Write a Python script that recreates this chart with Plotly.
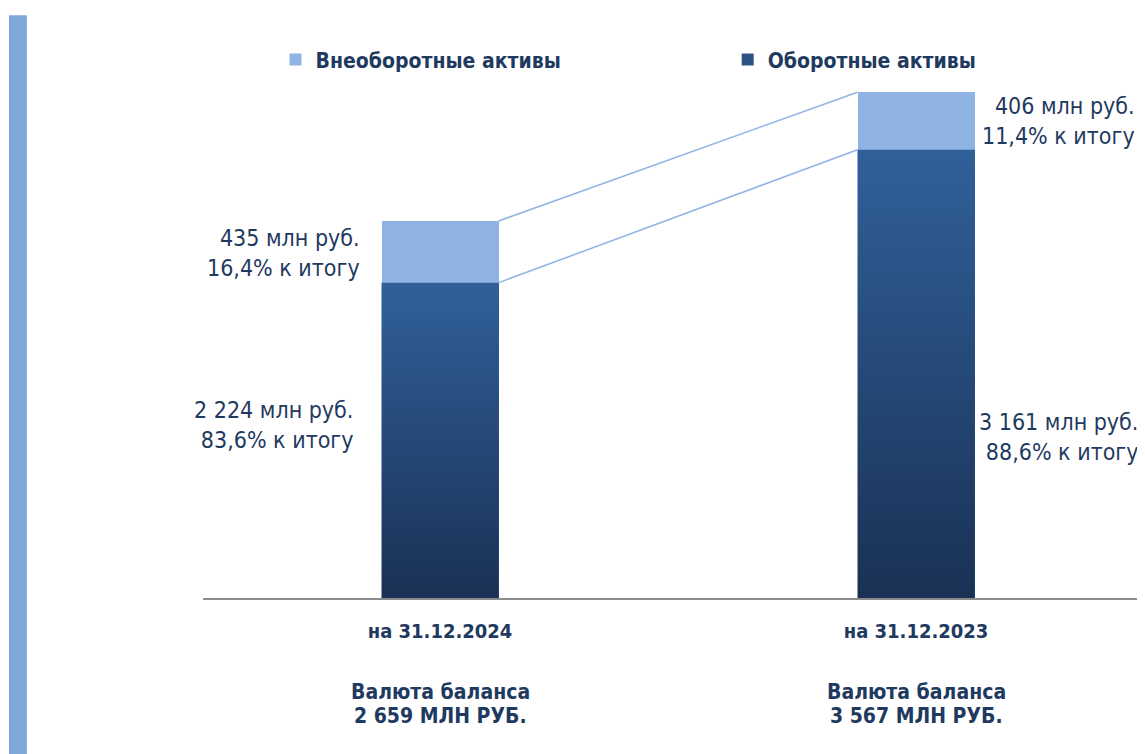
import plotly.graph_objects as go

categories = ["на 31.12.2024", "на 31.12.2023"]
current_assets = [2224, 3161]        # Оборотные активы
noncurrent_assets = [435, 406]       # Внеоборотные активы
current_pct = ["83,6%", "88,6%"]
noncurrent_pct = ["16,4%", "11,4%"]
totals_text = ["2 659 МЛН РУБ.", "3 567 МЛН РУБ."]
current_text = ["2 224", "3 161"]
noncurrent_text = ["435", "406"]

FONT = "Liberation Sans Narrow, Arial Narrow, DejaVu Sans Condensed, sans-serif"
TXT = "#1f3a60"
LIGHT = "#8fb4e3"
DARK = "#2b5282"
W = 0.246
xs = [0, 1]
totals = [c + n for c, n in zip(current_assets, noncurrent_assets)]

fig = go.Figure()
fig.add_trace(go.Bar(x=xs, y=current_assets, width=W, marker=dict(color=DARK, line=dict(width=0)),
                     name="Оборотные активы", legend="legend2"))
fig.add_trace(go.Bar(x=xs, y=noncurrent_assets, width=W, marker=dict(color=LIGHT, line=dict(width=0)),
                     name="Внеоборотные активы", legend="legend"))

# gradient overlay for the dark segments
for i, v in zip(xs, current_assets):
    fig.add_trace(go.Scatter(x=[i - W / 2, i + W / 2, i + W / 2, i - W / 2, i - W / 2],
                             y=[0, 0, v, v, 0], mode="lines", line=dict(width=0),
                             fill="toself",
                             fillgradient=dict(type="vertical",
                                               colorscale=[[0, "#1a3154"], [1, "#30609a"]]),
                             showlegend=False, hoverinfo="skip"))

# connector lines
fig.add_trace(go.Scatter(x=[xs[0] + W / 2, xs[1] - W / 2], y=totals, mode="lines",
                         line=dict(color="#8fb4e3", width=1.5), showlegend=False, hoverinfo="skip"))
fig.add_trace(go.Scatter(x=[xs[0] + W / 2, xs[1] - W / 2], y=current_assets, mode="lines",
                         line=dict(color="#8fb4e3", width=1.5), showlegend=False, hoverinfo="skip"))

LBL = dict(family=FONT, size=23, color=TXT)
ann = []
ann.append(dict(x=-0.164, y=2435, xref="x", yref="y", xanchor="right", yanchor="middle", align="right",
                text=f"{noncurrent_text[0]} млн руб.<br>{noncurrent_pct[0]} к итогу", showarrow=False, font=LBL))
ann.append(dict(x=-0.179, y=1219, xref="x", yref="y", xanchor="right", yanchor="middle", align="right",
                text=f"{current_text[0]} млн руб.<br>{current_pct[0]} к итогу", showarrow=False, font=LBL))
ann.append(dict(x=1 + 0.464, y=3362, xref="x", yref="y", xanchor="right", yanchor="middle", align="right",
                text=f"{noncurrent_text[1]} млн руб.<br>{noncurrent_pct[1]} к итогу", showarrow=False, font=LBL))
ann.append(dict(x=1 + 0.470, y=1135, xref="x", yref="y", xanchor="right", yanchor="middle", align="right",
                text=f"{current_text[1]} млн руб.<br>{current_pct[1]} к итогу", showarrow=False, font=LBL))
BOLD = dict(family=FONT, size=21, color=TXT, weight="bold")
for i, t in zip(xs, totals_text):
    ann.append(dict(x=i, y=-0.170, xref="x", yref="paper", xanchor="center", yanchor="middle",
                    text="Валюта баланса", showarrow=False, font=BOLD))
    ann.append(dict(x=i, y=-0.213, xref="x", yref="paper", xanchor="center", yanchor="middle",
                    text=t, showarrow=False, font=BOLD))

LEG = dict(family=FONT, size=21, color=TXT, weight="bold")
fig.update_layout(
    width=1137, height=746,
    margin=dict(l=195, r=0, t=37, b=156),
    paper_bgcolor="white", plot_bgcolor="white",
    barmode="stack",
    font=dict(family=FONT, color=TXT),
    xaxis=dict(range=[-0.498, 1.481], tickvals=xs, ticktext=categories,
               tickfont=dict(family=FONT, size=20, color=TXT, weight="bold"), showline=True,
               linecolor="#8c8c8c", linewidth=2, ticks="", showgrid=False, zeroline=False,
               ticklabelstandoff=14),
    yaxis=dict(range=[0, 3900], visible=False, showgrid=False, zeroline=False),
    legend=dict(orientation="h", x=0.077, y=0.973, xanchor="left", yanchor="middle",
                font=LEG, bgcolor="rgba(0,0,0,0)", borderwidth=0),
    legend2=dict(orientation="h", x=0.557, y=0.973, xanchor="left", yanchor="middle",
                 font=LEG, bgcolor="rgba(0,0,0,0)", borderwidth=0),
    annotations=ann,
    shapes=[dict(type="rect", xref="paper", yref="paper", x0=-0.206, x1=-0.187, y0=-0.3, y1=1.054,
                 fillcolor="#7fa7da", line=dict(width=0), layer="below")],
)
fig.write_html("out.html")
